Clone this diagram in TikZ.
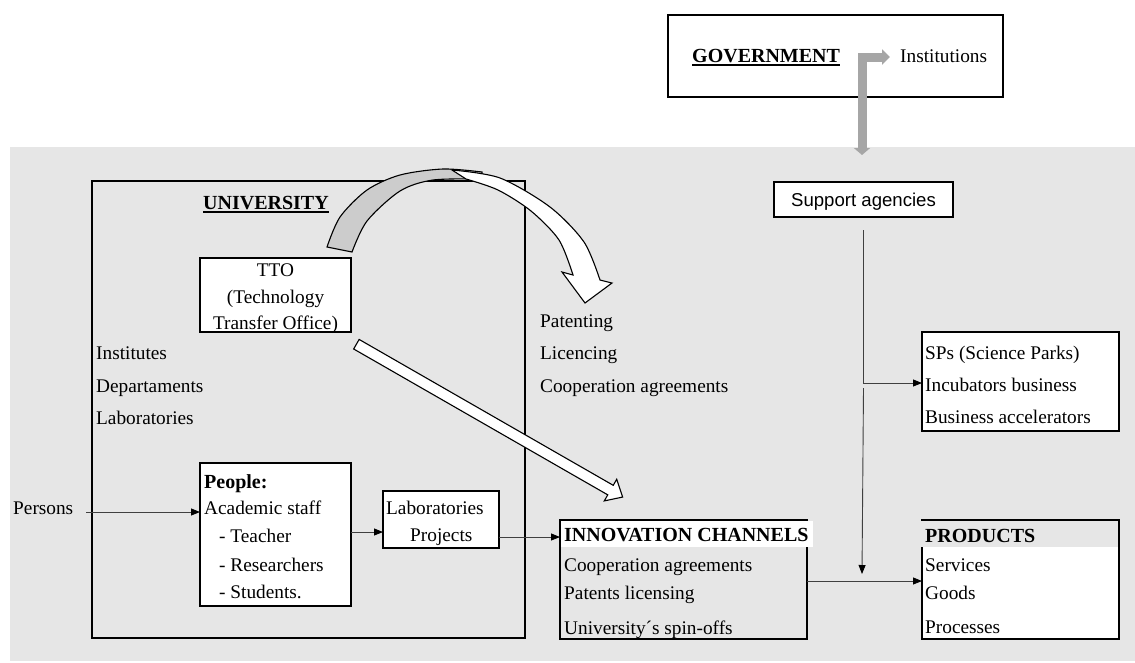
\documentclass[tikz,border=0pt]{standalone}
\usepackage{fontspec}
\setmainfont{Liberation Serif}
\newfontfamily\agencyfont{Liberation Sans}
\usetikzlibrary{arrows.meta}
\definecolor{panel}{HTML}{E6E6E6}
\definecolor{govarrow}{HTML}{A6A6A6}
\definecolor{ribbon}{HTML}{CCCCCC}
\definecolor{wire}{HTML}{404040}

\begin{document}
\begin{tikzpicture}[x=1pt,y=-1pt,
  box/.style={draw=black, line width=1.6pt, fill=white, inner sep=0pt, outer sep=0pt},
  frame/.style={draw=black, line width=1.3pt, fill=white, inner sep=0pt, outer sep=0pt},
  txt/.style={font=\fontsize{19.3}{23}\selectfont, inner sep=0pt, anchor=base west},
  ctxt/.style={txt, anchor=base},
  btxt/.style={font=\fontsize{20}{24}\selectfont\bfseries, inner sep=0pt, anchor=base west},
  conn/.style={draw=wire, line width=0.9pt, -{Triangle[length=9pt,width=7pt,color=black]}},
  blockarrow/.style={draw=black, line width=1.1pt, line join=miter},
]
\useasboundingbox (0,0) rectangle (1135,662);

% shaded system area
\fill[panel] (10,147) rectangle (1135,661);

% government box and its bent arrow
\node[frame, minimum width=335pt, minimum height=82pt] (gov) at (835.5,56) {};
\node[btxt] (govtxt) at (692,62) {GOVERNMENT};
\draw[line width=1.6pt] ([yshift=-3pt]govtxt.base west) -- ([yshift=-3pt]govtxt.base east);
\node[txt] (inst) at (900,62) {Institutions};
\draw[govarrow, line width=9pt, line join=miter,
  {Triangle[length=7pt,width=16pt]}-{Triangle[length=8pt,width=15pt]}]
  (862,155) -- (862,57) -- (890,57);

% university
\node[box, fill=none, minimum width=433pt, minimum height=457pt] (univ) at (308.5,409.5) {};
\node[btxt] (univtxt) at (203,209) {UNIVERSITY};
\draw[line width=1.6pt] ([yshift=-3pt]univtxt.base west) -- ([yshift=-3pt]univtxt.base east);

\node[box, minimum width=151pt, minimum height=74pt] (tto) at (275.5,295) {};
\node[ctxt] (tto1) at (275.5,276) {TTO};
\node[ctxt] (tto2) at (275.5,303) {(Technology};
\node[ctxt] (tto3) at (275.5,329) {Transfer Office)};

\node[txt] (units1) at (96,359) {Institutes};
\node[txt] (units2) at (96,392) {Departaments};
\node[txt] (units3) at (96,424) {Laboratories};

\node[box, minimum width=151pt, minimum height=143pt] (people) at (275.5,534.5) {};
\node[btxt] (pp0) at (204,488) {People:};
\node[txt] (pp1) at (204,514) {Academic staff};
\node[txt] (pp2) at (219,542) {- Teacher};
\node[txt] (pp3) at (219,571) {- Researchers};
\node[txt] (pp4) at (219,598) {- Students.};

\node[txt] (persons) at (13,514) {Persons};

\node[box, minimum width=116pt, minimum height=57pt] (labs) at (441,519.5) {};
\node[txt] (labs1) at (386,514) {Laboratories};
\node[txt] (labs2) at (410,541) {Projects};

% transfer mechanisms
\node[txt] (mech1) at (540,327) {Patenting};
\node[txt] (mech2) at (540,359) {Licencing};
\node[txt] (mech3) at (540,392) {Cooperation agreements};

% innovation channels
\node[box, fill=panel, minimum width=247pt, minimum height=119pt] (innov) at (683.5,579.5) {};
\fill[white] (561,521) rectangle (813,547);
\node[btxt] (inn0) at (564,541) {INNOVATION CHANNELS};
\node[txt] (inn1) at (564,571) {Cooperation agreements};
\node[txt] (inn2) at (564,599) {Patents licensing};
\node[txt] (inn3) at (564,634) {University´s spin-offs};

% support structures
\node[frame, minimum width=179pt, minimum height=35pt] (support) at (863.5,199.5) {};
\node[font=\agencyfont\fontsize{18.6}{22}\selectfont, inner sep=0pt, anchor=base] (suptxt) at (863.5,206) {Support agencies};

\node[box, minimum width=197pt, minimum height=99pt] (sps) at (1020.5,381.5) {};
\node[txt] (sp1) at (925,359) {SPs (Science Parks)};
\node[txt] (sp2) at (925,391) {Incubators business};
\node[txt] (sp3) at (925,423) {Business accelerators};

\node[box, minimum width=197pt, minimum height=119pt] (prod) at (1020.5,579.5) {};
\fill[panel] (921,521) rectangle (1118.2,547);
\node[btxt] (pr0) at (925,542) {PRODUCTS};
\node[txt] (pr1) at (925,571) {Services};
\node[txt] (pr2) at (925,599) {Goods};
\node[txt] (pr3) at (925,633) {Processes};

% connectors
\draw[conn] (persons.east |- 0,512) ++(13,0) -- (people.west |- 0,512);
\draw[conn] (people.east |- 0,532) -- (labs.west |- 0,532);
\draw[conn] (labs.east |- 0,537) -- (innov.west |- 0,537);
\draw[conn] (innov.east |- 0,581) -- (prod.west |- 0,581);
\draw[conn] (support.south) ++(0,13) |- (sps.west |- 0,383);
\coordinate (fork) at (863.5,388);
\coordinate (merge) at (862,574);
\draw[conn] (fork) -- (merge);

% straight block arrow from the TTO towards the channels
\begin{scope}[shift={(356.4,344.2)}, rotate=-29.86]
  \filldraw[blockarrow, fill=white]
    (0,-5.5) -- (293,-5.5) -- (293,-12.5) -- (307,0) -- (293,12.5) -- (293,5.5) -- (0,5.5) -- cycle;
\end{scope}

% curved ribbon arrow over the university: shaded back, white front
\filldraw[blockarrow, fill=ribbon]
  plot[smooth] coordinates {(327,247) (340,217) (367,190) (400,175) (443,169) (482,172)}
  -- plot[smooth] coordinates {(482,179) (433,180) (400,191) (367,221) (352,252)}
  -- cycle;
\filldraw[blockarrow, fill=white]
  plot[smooth] coordinates {(452,170) (500,178) (550,207) (584,242) (600,280)}
  -- (612,283) -- (585,303) -- (562,272) -- (573,275)
  -- plot[smooth] coordinates {(573,275) (559,240) (531,211) (498,190) (466,179)}
  -- cycle;
\end{tikzpicture}
\end{document}
